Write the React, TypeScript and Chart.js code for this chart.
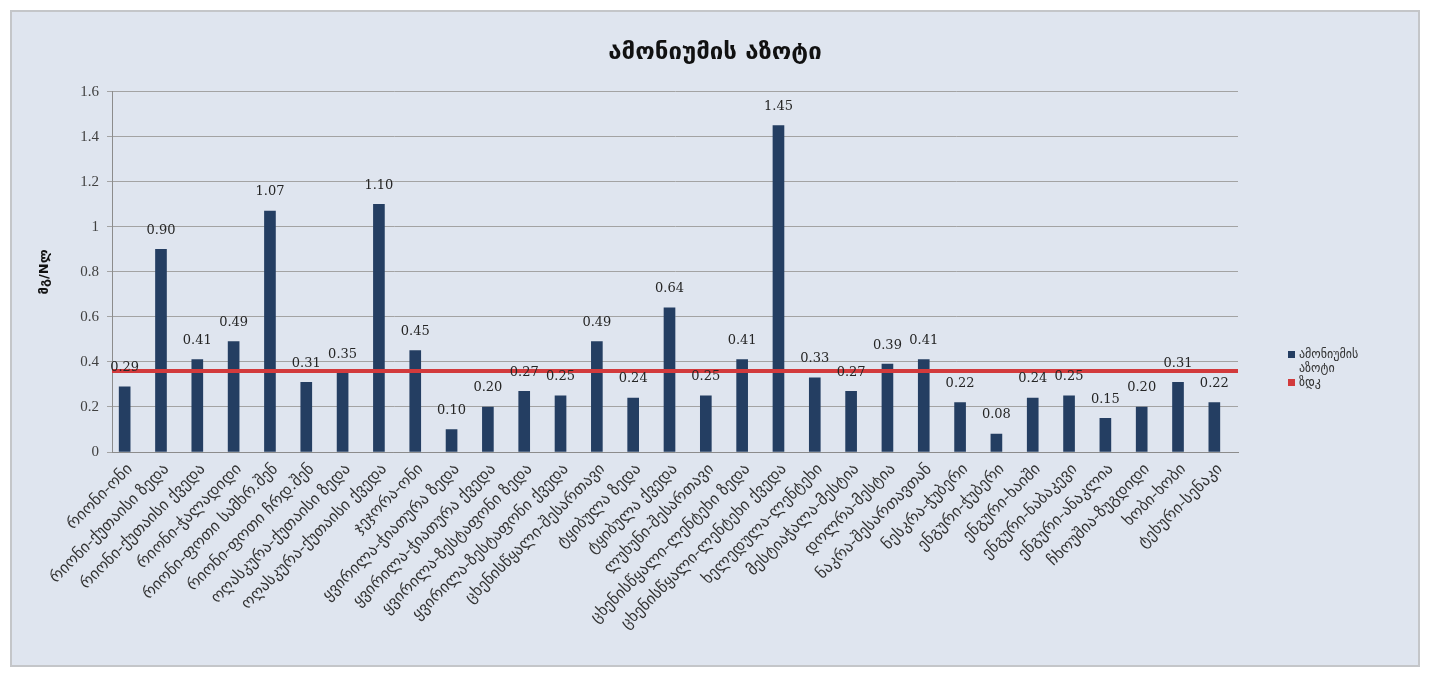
import React, { useEffect, useRef } from "react";
import { Chart, registerables } from "chart.js";

Chart.register(...registerables);

const chartTitle = "ამონიუმის აზოტი";
const yAxisTitle = "მგ/Nლ";
const seriesName = "ამონიუმის აზოტი";
const limitName = "ზდკ";

const categories = [
  "რიონი-ონი",
  "რიონი-ქუთაისი ზედა",
  "რიონი-ქუთაისი ქვედა",
  "რიონი-ჭალადიდი",
  "რიონი-ფოთი სამხრ.შენ",
  "რიონი-ფოთი ჩრდ.შენ",
  "ოღასკურა-ქუთაისი ზედა",
  "ოღასკურა-ქუთაისი ქვედა",
  "ჯეჯორა-ონი",
  "ყვირილა-ჭიათურა ზედა",
  "ყვირილა-ჭიათურა ქვედა",
  "ყვირილა-ზესტაფონი ზედა",
  "ყვირილა-ზესტაფონი ქვედა",
  "ცხენისწყალი-შესართავი",
  "ტყიბულა ზედა",
  "ტყიბულა ქვედა",
  "ლუხუნი-შესართავი",
  "ცხენისწყალი-ლენტეხი ზედა",
  "ცხენისწყალი-ლენტეხი ქვედა",
  "ხელედულა-ლენტეხი",
  "მესტიაჭალა-მესტია",
  "დოლრა-მესტია",
  "ნაკრა-შესართავთან",
  "ნესკრა-ჭუბერი",
  "ენგური-ჭუბერი",
  "ენგური-ხაიში",
  "ენგური-ნაბაკევი",
  "ენგური-ანაკლია",
  "ჩხოუშია-ზუგდიდი",
  "ხობი-ხობი",
  "ტეხური-სენაკი",
];

const ammoniumValues = [
  0.29, 0.9, 0.41, 0.49, 1.07, 0.31, 0.35, 1.1, 0.45, 0.1, 0.2, 0.27, 0.25,
  0.49, 0.24, 0.64, 0.25, 0.41, 1.45, 0.33, 0.27, 0.39, 0.41, 0.22, 0.08, 0.24,
  0.25, 0.15, 0.2, 0.31, 0.22,
];

const limitValue = 0.36;

const yMin = 0;
const yMax = 1.6;
const yStep = 0.2;

const barColor = "#243e62";
const limitColor = "#d23a3c";

const valueLabelPlugin = {
  id: "valueLabels",
  afterDatasetsDraw(chart: any) {
    const meta = chart.getDatasetMeta(0);
    const ctx = chart.ctx;
    ctx.save();
    ctx.font = "13px 'DejaVu Serif', serif";
    ctx.fillStyle = "#262626";
    ctx.textAlign = "center";
    ctx.textBaseline = "middle";
    meta.data.forEach((bar: any, i: number) => {
      const v = chart.data.datasets[0].data[i] as number;
      ctx.fillText(v.toFixed(2), bar.x, bar.y - 19);
    });
    ctx.restore();
  },
};

export default function App() {
  const canvasRef = useRef<HTMLCanvasElement | null>(null);

  useEffect(() => {
    if (!canvasRef.current) return;
    const chart = new Chart(canvasRef.current, {
      type: "bar",
      data: {
        labels: categories,
        datasets: [
          {
            type: "bar",
            label: seriesName,
            data: ammoniumValues,
            backgroundColor: barColor,
            borderWidth: 0,
            barThickness: 11,
            order: 2,
          } as any,
          {
            type: "line",
            label: limitName,
            xAxisID: "x2",
            data: [
              { x: -0.5, y: limitValue },
              { x: categories.length - 0.5, y: limitValue },
            ],
            borderColor: limitColor,
            borderWidth: 4,
            pointRadius: 0,
            fill: false,
            order: 1,
          } as any,
        ],
      },
      options: {
        animation: false,
        responsive: true,
        maintainAspectRatio: false,
        layout: { padding: { left: 0, right: 0, top: 0, bottom: 0 } },
        plugins: {
          legend: { display: false },
          tooltip: { enabled: false },
          title: {
            display: true,
            text: chartTitle,
            color: "#111",
            font: { family: "'DejaVu Sans', sans-serif", size: 24, weight: "bold" },
            padding: { top: 26, bottom: 25 },
          },
        },
        scales: {
          x: {
            type: "category",
            offset: true,
            grid: { display: false },
            border: { display: true, color: "#8c8c8c" },
            ticks: {
              autoSkip: false,
              maxRotation: 45,
              minRotation: 45,
              padding: 0,
              color: "#333",
              font: { family: "'DejaVu Sans', sans-serif", size: 16 },
            },
            afterFit: (scale: any) => {
              scale.height = 213;
            },
          },
          x2: {
            type: "linear",
            display: false,
            offset: false,
            min: -0.5,
            max: categories.length - 0.5,
          },
          y: {
            min: yMin,
            max: yMax,
            ticks: {
              stepSize: yStep,
              color: "#404040",
              padding: 8,
              font: { family: "'Liberation Serif', serif", size: 15 },
              callback: (v: any) => String(Math.round(Number(v) * 10) / 10),
            },
            grid: { color: "#a3a3a3", tickLength: 5, lineWidth: 1 },
            border: { display: true, color: "#8c8c8c" },
            title: {
              display: true,
              text: yAxisTitle,
              color: "#111",
              font: { family: "'DejaVu Sans', sans-serif", size: 13, weight: "bold" },
              padding: { top: 25, bottom: 0 },
            },
            afterFit: (scale: any) => {
              scale.width = 100;
            },
          },
          legendSpace: {
            type: "linear",
            position: "right",
            grid: { display: false },
            border: { display: false },
            ticks: { display: false },
            afterFit: (scale: any) => {
              scale.width = 180;
            },
          },
        },
      },
      plugins: [valueLabelPlugin],
    });
    return () => chart.destroy();
  }, []);

  const legendText: React.CSSProperties = {
    fontFamily: "'DejaVu Sans', sans-serif",
    fontSize: 12,
    color: "#333",
    lineHeight: "14px",
  };

  return (
    <div style={{ position: "relative", width: 1413, height: 661, background: "#ffffff" }}>
      <div
        style={{
          position: "absolute",
          left: 2,
          top: 2,
          width: 1410,
          height: 657,
          boxSizing: "border-box",
          border: "2px solid #c4c6c9",
          background: "#dfe5ef",
        }}
      >
        <canvas ref={canvasRef} style={{ display: "block", width: "100%", height: "100%" }} />
        <div style={{ position: "absolute", left: 1276, top: 335 }}>
          <div style={{ display: "flex", alignItems: "flex-start" }}>
            <span
              style={{ width: 7, height: 7, background: barColor, marginTop: 4, marginRight: 4, display: "inline-block" }}
            />
            <span style={{ ...legendText, width: 80 }}>{seriesName}</span>
          </div>
          <div style={{ display: "flex", alignItems: "flex-start", marginTop: 0 }}>
            <span
              style={{ width: 7, height: 7, background: limitColor, marginTop: 4, marginRight: 4, display: "inline-block" }}
            />
            <span style={legendText}>{limitName}</span>
          </div>
        </div>
      </div>
    </div>
  );
}
